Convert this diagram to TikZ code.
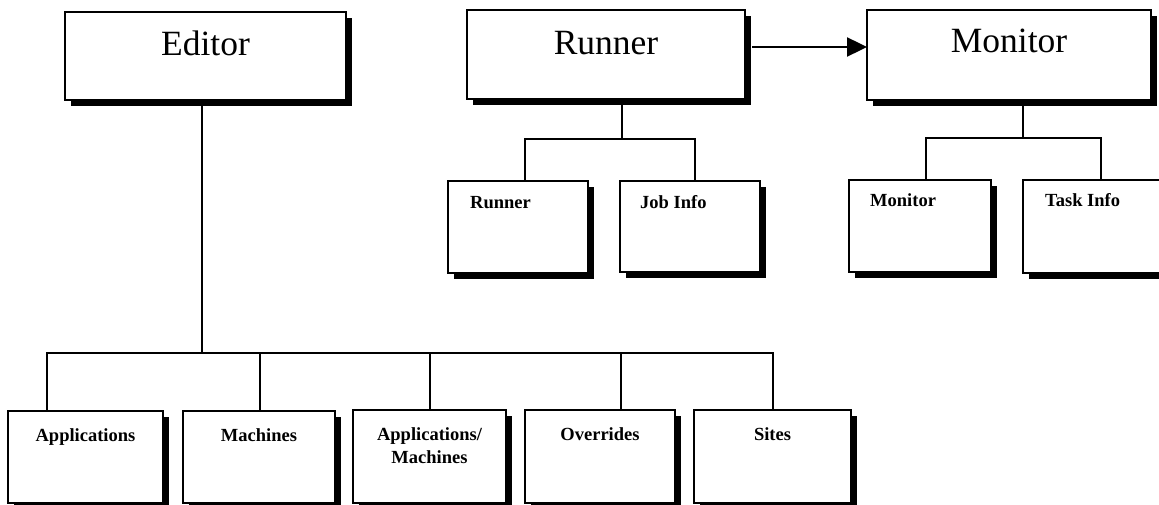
\documentclass[tikz,border=0pt]{standalone}
\usepackage{fontspec}
\setmainfont{Liberation Serif}
\usetikzlibrary{shadows,calc,arrows.meta}

\tikzset{
  box/.style={draw=black, line width=2.4pt, fill=white, rectangle,
    inner sep=0pt, outer sep=0pt, anchor=north west,
    drop shadow={shadow xshift=6pt, shadow yshift=-6pt, fill=black, opacity=1}},
  bigtitle/.style={anchor=base, inner sep=0pt, font=\fontsize{35.5}{40}\selectfont},
  sublabel/.style={anchor=base west, inner sep=0pt, font=\bfseries\fontsize{18.5}{23}\selectfont},
  leaflabel/.style={anchor=base, inner sep=0pt, align=center, font=\bfseries\fontsize{18.5}{23}\selectfont},
  wire/.style={line width=2.4pt, line cap=rect},
  flow/.style={line width=2.4pt, -{Triangle[length=20pt,width=19pt]}}
}

% box with its top-left corner at (x1,y1) and size w x h, in pixel-like units
\newcommand{\boxat}[5]{%
  \node[box, minimum width=#4pt, minimum height=#5pt] (#1) at (#2,#3) {};}

\begin{document}
\begin{tikzpicture}[x=1pt, y=-1pt]
  \clip (0,0) rectangle (1159,505);
  \useasboundingbox (0,0) rectangle (1159,505);

  % top level tools
  \boxat{editor}{65}{12}{281}{88}
  \boxat{runner}{467}{10}{278}{89}
  \boxat{monitor}{867}{10}{284}{90}
  \node[bigtitle] (editorT) at ($(editor.north)+(0,44)$) {Editor};
  \node[bigtitle] (runnerT) at ($(runner.north)+(0,45)$) {Runner};
  \node[bigtitle] (monitorT) at ($(monitor.north)+(0,43)$) {Monitor};

  % runner panels
  \boxat{runpanel}{448}{181}{140}{92}
  \boxat{jobinfo}{620}{181}{140}{91}
  \node[sublabel] (runpanelT) at ($(runpanel.north west)+(22,27)$) {Runner};
  \node[sublabel] (jobinfoT) at ($(jobinfo.north west)+(20,27)$) {Job Info};

  % monitor panels
  \boxat{monpanel}{849}{180}{142}{92}
  \boxat{taskinfo}{1023}{180}{142}{93}
  \node[sublabel] (monpanelT) at ($(monpanel.north west)+(21,27)$) {Monitor};
  \node[sublabel] (taskinfoT) at ($(taskinfo.north west)+(22,27)$) {Task Info};

  % editor panels
  \boxat{apps}{8}{411}{155}{92}
  \boxat{machines}{183}{411}{152}{92}
  \boxat{appmach}{353}{410}{153}{93}
  \boxat{overrides}{525}{410}{150}{93}
  \boxat{sites}{694}{410}{157}{93}
  \node[leaflabel] (appsT) at ($(apps.north)+(0,30)$) {Applications};
  \node[leaflabel] (machinesT) at ($(machines.north)+(0,30)$) {Machines};
  % two-line label: the base anchor sits on the last line
  \node[leaflabel] (appmachT) at ($(appmach.north)+(0,53)$) {Applications/\\Machines};
  \node[leaflabel] (overridesT) at ($(overrides.north)+(0,30)$) {Overrides};
  \node[leaflabel] (sitesT) at ($(sites.north)+(0,30)$) {Sites};

  % editor tree
  \coordinate (ebus) at (202,353);
  \coordinate (e1) at (47,353);
  \coordinate (e2) at (260,353);
  \coordinate (e3) at (430,353);
  \coordinate (e4) at (621,353);
  \coordinate (e5) at (773,353);
  \draw[wire] (editor.south -| ebus) -- (ebus);
  \draw[wire] (e1) -- (e5);
  \draw[wire] (e1) -- (apps.north -| e1);
  \draw[wire] (e2) -- (machines.north -| e2);
  \draw[wire] (e3) -- (appmach.north -| e3);
  \draw[wire] (e4) -- (overrides.north -| e4);
  \draw[wire] (e5) -- (sites.north -| e5);

  % runner tree
  \coordinate (rbus) at (622,139);
  \coordinate (r1) at (525,139);
  \coordinate (r2) at (695,139);
  \draw[wire] (runner.south -| rbus) -- (rbus);
  \draw[wire] (r1) -- (r2);
  \draw[wire] (r1) -- (runpanel.north -| r1);
  \draw[wire] (r2) -- (jobinfo.north -| r2);

  % monitor tree
  \coordinate (mbus) at (1023,138);
  \coordinate (m1) at (926,138);
  \coordinate (m2) at (1101,138);
  \draw[wire] (monitor.south -| mbus) -- (mbus);
  \draw[wire] (m1) -- (m2);
  \draw[wire] (m1) -- (monpanel.north -| m1);
  \draw[wire] (m2) -- (taskinfo.north -| m2);

  % runner hands jobs to the monitor
  \coordinate (rarrow) at (752,47);
  \draw[flow] (rarrow) -- (monitor.west |- rarrow);
\end{tikzpicture}
\end{document}
